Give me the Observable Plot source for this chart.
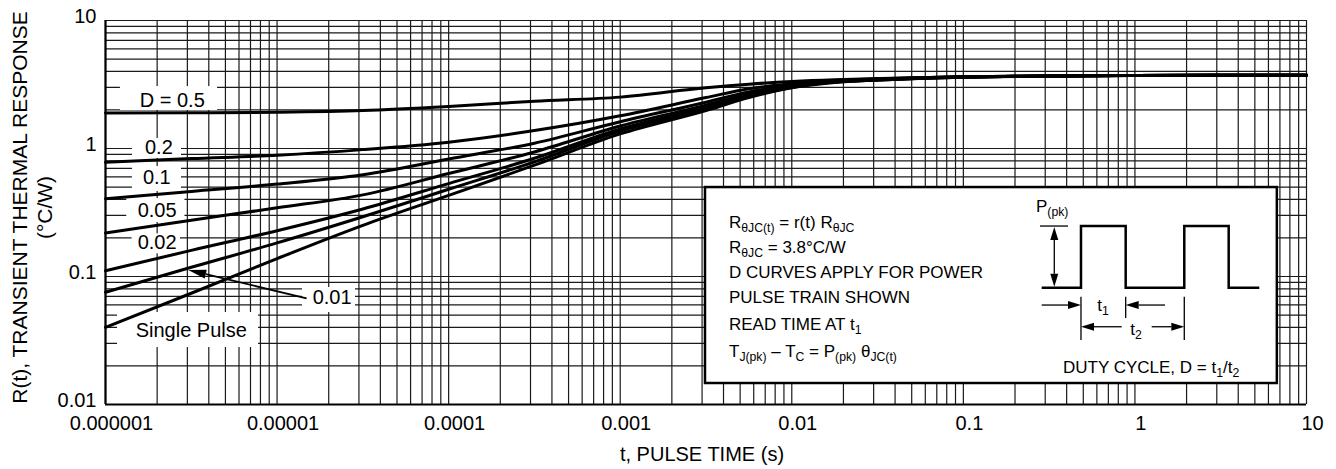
<!DOCTYPE html>
<html><head><meta charset="utf-8">
<script src="https://cdn.jsdelivr.net/npm/d3@7"></script>
<script src="https://cdn.jsdelivr.net/npm/@observablehq/plot@0.6"></script>
<style>
body{margin:0;background:#fff}
svg{display:block}
text{white-space:pre}
</style>
</head><body><div id="chart"></div>
<script>
// ---------- data ----------
const xDomain = [1e-6, 10];
const yDomain = [0.01, 10];
const xTickValues = [1e-6, 1e-5, 1e-4, 1e-3, 1e-2, 1e-1, 1, 10];
const xTickLabels = ["0.000001", "0.00001", "0.0001", "0.001", "0.01", "0.1", "1", "10"];
const yTickValues = [0.01, 0.1, 1, 10];
const yTickLabels = ["0.01", "0.1", "1", "10"];

// log10 of pulse time t (s) where curves were read
const logPulseTime = [-6, -5.5, -5, -4.5, -4, -3.5, -3, -2.5, -2.25, -2, -1.75, -1.5, -1, 0, 1];
// r(t) values (°C/W)
const rD050   = [1.89, 1.90, 1.92, 1.98, 2.13, 2.34, 2.52, 2.98, 3.18, 3.34, 3.45, 3.52, 3.64, 3.72, 3.73];
const rD020   = [0.78, 0.834, 0.887, 0.98, 1.12, 1.38, 1.80, 2.50, 2.93, 3.20, 3.40, 3.50, 3.63, 3.72, 3.73];
const rD010   = [0.405, 0.462, 0.527, 0.624, 0.828, 1.10, 1.62, 2.30, 2.77, 3.12, 3.36, 3.48, 3.63, 3.72, 3.73];
const rD005   = [0.219, 0.275, 0.344, 0.434, 0.638, 0.94, 1.50, 2.18, 2.67, 3.07, 3.33, 3.46, 3.62, 3.72, 3.73];
const rD002   = [0.111, 0.160, 0.228, 0.337, 0.532, 0.839, 1.42, 2.10, 2.60, 3.03, 3.31, 3.44, 3.61, 3.72, 3.73];
const rD001   = [0.0753, 0.118, 0.183, 0.293, 0.48, 0.787, 1.37, 2.04, 2.55, 3.00, 3.30, 3.43, 3.61, 3.72, 3.73];
const rSingle = [0.040, 0.074, 0.138, 0.251, 0.43, 0.741, 1.30, 1.98, 2.50, 2.98, 3.28, 3.42, 3.60, 3.72, 3.73];
const seriesNames = ["D = 0.5", "0.2", "0.1", "0.05", "0.02", "0.01", "Single Pulse"];
const seriesValues = [rD050, rD020, rD010, rD005, rD002, rD001, rSingle];

// curve labels: text and centre (log10 t, log10 r)
const curveLabelText = ["D = 0.5", "0.2", "0.1", "0.05", "0.02", "Single Pulse", "0.01"];
const curveLabelLogT = [-5.611, -5.689, -5.701, -5.699, -5.699, -5.500, -4.679];
const curveLabelLogR = [0.373, 0.008, -0.224, -0.484, -0.738, -1.424, -1.168];
// white boxes behind labels (log10 t range, log10 r range)
const labelBoxLogT1 = [-5.913, -5.843, -5.843, -5.876, -5.845, -5.930, -4.852];
const labelBoxLogT2 = [-5.347, -5.557, -5.557, -5.537, -5.563, -5.108, -4.543];
const labelBoxLogR1 = [0.484, 0.078, -0.141, -0.391, -0.667, -1.281, -1.086];
const labelBoxLogR2 = [0.297, -0.078, -0.336, -0.578, -0.823, -1.555, -1.281];
// arrow pointing at the 0.01 curve (tail -> tip), log10 coordinates
const arrowLogT = [-4.825, -5.515];
const arrowLogR = [-1.174, -0.953];
// info box corners (log10 t, log10 r)
const infoLogT = [-2.503, 0.830];
const infoLogR = [-0.305, -1.836];

const FONT = "'Liberation Sans', Arial, Helvetica, sans-serif";

// ---------- derived tables ----------
const curveRows = seriesNames.flatMap((name, s) =>
  logPulseTime.map((lt, i) => ({series: name, t: 10 ** lt, r: seriesValues[s][i]})));
const labelRows = curveLabelText.map((text, i) => ({
  text, t: 10 ** curveLabelLogT[i], r: 10 ** curveLabelLogR[i],
  t1: 10 ** labelBoxLogT1[i], t2: 10 ** labelBoxLogT2[i],
  r1: 10 ** labelBoxLogR1[i], r2: 10 ** labelBoxLogR2[i]
}));
const xTickRows = xTickValues.map((v, i) => ({v, label: xTickLabels[i]}));
const yTickRows = yTickValues.map((v, i) => ({v, label: yTickLabels[i]}));
const xGrid = d3.scaleLog().domain(xDomain).ticks(20);
const yGrid = d3.scaleLog().domain(yDomain).ticks(20);

// ---------- helpers for annotation drawing ----------
function richText(g, x, y, parts, size, anchor) {
  const t = g.append("text").attr("x", x).attr("y", y)
    .attr("font-size", size).attr("font-family", FONT).attr("fill", "black")
    .attr("text-anchor", anchor || "start");
  let shifted = false;
  for (const p of parts) {
    const sub = Array.isArray(p);
    const ts = t.append("tspan").text(sub ? p[0] : p);
    if (sub) {
      ts.attr("font-size", size * 0.72);
      if (!shifted) { ts.attr("dy", 4); shifted = true; }
    } else if (shifted) { ts.attr("dy", -4); shifted = false; }
  }
  return t;
}
function arrow(g, x1, y1, x2, y2, len, half, w) {
  const a = Math.atan2(y2 - y1, x2 - x1);
  const bx = x2 - len * Math.cos(a), by = y2 - len * Math.sin(a);
  g.append("line").attr("x1", x1).attr("y1", y1).attr("x2", bx).attr("y2", by)
    .attr("stroke", "black").attr("stroke-width", w);
  const px = -Math.sin(a) * half, py = Math.cos(a) * half;
  g.append("path").attr("d", `M${x2},${y2}L${bx + px},${by + py}L${bx - px},${by - py}Z`)
    .attr("fill", "black");
}

const fallbackX = d3.scaleLog().domain(xDomain).range([105, 1306]);
const fallbackY = d3.scaleLog().domain(yDomain).range([404, 20]);

function infoBoxMark(index, scales) {
  const sx = (scales && typeof scales.x === "function") ? scales.x : fallbackX;
  const sy = (scales && typeof scales.y === "function") ? scales.y : fallbackY;
  const x0 = sx(10 ** infoLogT[0]), x1 = sx(10 ** infoLogT[1]);
  const y0 = sy(10 ** infoLogR[0]), y1 = sy(10 ** infoLogR[1]);
  const g = d3.create("svg:g");
  g.append("rect").attr("x", x0).attr("y", y0).attr("width", x1 - x0).attr("height", y1 - y0)
    .attr("fill", "white").attr("stroke", "black").attr("stroke-width", 2.5);
  const L = x0 + 24, fs = 17;
  richText(g, L, y0 + 41, ["R", ["θJC(t)"], " = r(t) R", ["θJC"]], fs);
  richText(g, L, y0 + 66, ["R", ["θJC"], " = 3.8°C/W"], fs);
  richText(g, L, y0 + 91, ["D CURVES APPLY FOR POWER"], fs);
  richText(g, L, y0 + 116, ["PULSE TRAIN SHOWN"], fs);
  richText(g, L, y0 + 143, ["READ TIME AT t", ["1"]], fs);
  richText(g, L, y0 + 170, ["T", ["J(pk)"], " – T", ["C"], " = P", ["(pk)"], " θ", ["JC(t)"]], fs);
  // pulse train
  const lo = y0 + 100.7, hi = y0 + 39;
  const px = [336.7, 376, 420.7, 479.3, 523.7, 554.3].map(d => x0 + d);
  g.append("path").attr("d",
    `M${px[0]},${lo}H${px[1]}V${hi}H${px[2]}V${lo}H${px[3]}V${hi}H${px[4]}V${lo}H${px[5]}`)
    .attr("fill", "none").attr("stroke", "black").attr("stroke-width", 2.5);
  richText(g, x0 + 331, y0 + 25, ["P", ["(pk)"]], fs);
  g.append("line").attr("x1", x0 + 335).attr("x2", x0 + 363).attr("y1", hi).attr("y2", hi)
    .attr("stroke", "black").attr("stroke-width", 1.3);
  const vx = x0 + 349.3, mid = (hi + lo) / 2;
  arrow(g, vx, mid, vx, hi + 1, 13, 4, 1.3);
  arrow(g, vx, mid, vx, lo - 1, 13, 4, 1.3);
  // time marks
  const tick = (x, a, b) => g.append("line").attr("x1", x).attr("x2", x)
    .attr("y1", y0 + a).attr("y2", y0 + b).attr("stroke", "black").attr("stroke-width", 1.3);
  tick(px[1], 109.7, 153); tick(px[2], 109.7, 131); tick(px[3], 109.7, 153);
  arrow(g, x0 + 336.7, y0 + 118, px[1], y0 + 118, 13, 4, 1.3);
  arrow(g, x0 + 460, y0 + 118, px[2], y0 + 118, 13, 4, 1.3);
  richText(g, x0 + 398, y0 + 124, ["t", ["1"]], fs, "middle");
  arrow(g, x0 + 416.7, y0 + 139.7, px[1], y0 + 139.7, 13, 4, 1.3);
  arrow(g, x0 + 446.7, y0 + 139.7, px[3], y0 + 139.7, 13, 4, 1.3);
  richText(g, x0 + 431, y0 + 148, ["t", ["2"]], fs, "middle");
  richText(g, x0 + 358, y0 + 186, ["DUTY CYCLE, D = t", ["1"], "/t", ["2"]], fs);
  return g.node();
}

function pointerMark(index, scales) {
  const sx = (scales && typeof scales.x === "function") ? scales.x : fallbackX;
  const sy = (scales && typeof scales.y === "function") ? scales.y : fallbackY;
  const g = d3.create("svg:g");
  arrow(g, sx(10 ** arrowLogT[0]), sy(10 ** arrowLogR[0]),
        sx(10 ** arrowLogT[1]), sy(10 ** arrowLogR[1]), 18, 4.5, 1.8);
  return g.node();
}

// ---------- chart ----------
const chart = Plot.plot({
  width: 1336,
  height: 469,
  marginLeft: 105,
  marginRight: 30,
  marginTop: 20,
  marginBottom: 65,
  style: {fontFamily: FONT, background: "white", color: "black"},
  x: {type: "log", domain: xDomain, axis: null},
  y: {type: "log", domain: yDomain, axis: null},
  marks: [
    Plot.ruleX(xGrid, {x: d => d, stroke: "#1a1a1a", strokeWidth: 1.2}),
    Plot.ruleY(yGrid, {y: d => d, stroke: "#1a1a1a", strokeWidth: 1.2}),
    Plot.rect(labelRows, {x1: "t1", x2: "t2", y1: "r1", y2: "r2", fill: "white"}),
    infoBoxMark,
    Plot.ruleX([xDomain[0]], {stroke: "black", strokeWidth: 2.2}),
    Plot.ruleY([yDomain[0]], {stroke: "black", strokeWidth: 2.2}),
    Plot.line(curveRows, {x: "t", y: "r", z: "series", stroke: "black", strokeWidth: 3, curve: "monotone-x"}),
    Plot.text(labelRows, {x: "t", y: "r", text: "text", fontSize: 20, textAnchor: "middle", fill: "black"}),
    pointerMark,
    Plot.text(xTickRows, {x: "v", text: "label", frameAnchor: "bottom", lineAnchor: "top", textAnchor: "middle", dy: 11, dx: 6, fontSize: 20, fill: "black"}),
    Plot.text(yTickRows, {y: "v", text: "label", frameAnchor: "left", textAnchor: "end", lineAnchor: "middle", dx: -9, dy: -3.5, fontSize: 20, fill: "black"}),
    Plot.text(["t, PULSE TIME (s)"], {text: d => d, frameAnchor: "bottom", textAnchor: "middle", lineAnchor: "middle", dy: 50, dx: -4, fontSize: 20, fill: "black"}),
    Plot.text(["R(t), TRANSIENT THERMAL RESPONSE\n(°C/W)"], {text: d => d, frameAnchor: "left", textAnchor: "middle", lineAnchor: "middle", rotate: -90, dx: -74, dy: -5, fontSize: 21, lineHeight: 1.2, fill: "black"})
  ]
});
document.getElementById("chart").appendChild(chart);
</script>
</body></html>
